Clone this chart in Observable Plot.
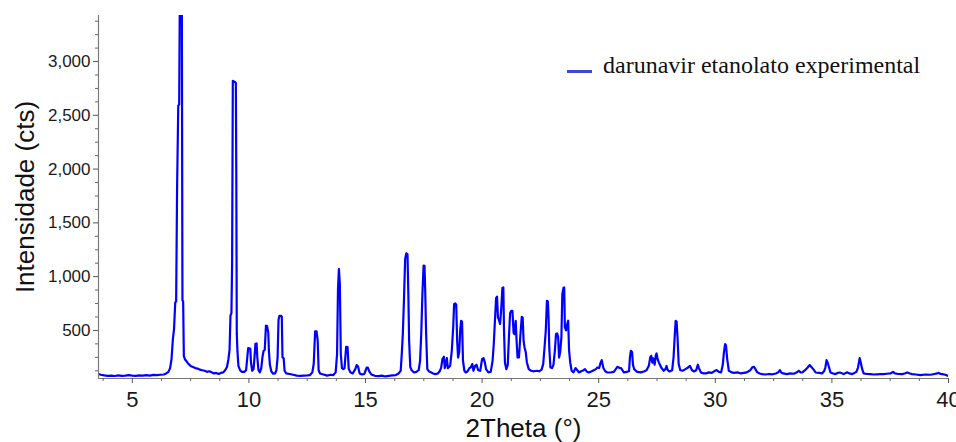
<!DOCTYPE html>
<html><head><meta charset="utf-8">
<script src="https://cdn.jsdelivr.net/npm/d3@7"></script>
<script src="https://cdn.jsdelivr.net/npm/@observablehq/plot@0.6"></script>
<style>
body{margin:0;background:#fff;}
#wrap{position:relative;width:956px;height:442px;overflow:hidden;background:#fff;}
#legend-swatch{position:absolute;left:567px;top:69.5px;width:25px;height:3.5px;background:#3c48d8;}
#legend-text{position:absolute;left:603px;top:53px;font-size:24px;line-height:24px;font-family:"Liberation Serif","Times New Roman",serif;color:#111;white-space:nowrap;}
</style></head>
<body><div id="wrap"></div>
<script>
const seriesName = "darunavir etanolato experimental";
const xLabel = "2Theta (°)";
const yLabel = "Intensidade (cts)";
const xTicks = [5, 10, 15, 20, 25, 30, 35, 40];
const yTicks = [500, 1000, 1500, 2000, 2500, 3000];
const xDomain = [3.55, 40];
const yDomain = [53, 3428];

const twoTheta = [
3.55,3.65,3.8,3.95,4.1,4.25,4.4,4.55,4.7,4.85,5.0,5.15,5.3,5.45,5.6,5.75,5.9,6.05,6.2,6.35,6.45,6.55,6.62,6.68,6.74,6.79,6.84,6.88,6.92,6.97,7.01,7.04,7.08,7.12,7.15,7.18,7.21,7.26,7.32,7.4,7.5,7.6,7.7,7.8,7.9,8.0,8.1,8.2,8.3,8.4,8.5,8.6,8.7,8.8,8.9,8.98,9.06,9.12,9.17,9.21,9.25,9.28,9.31,9.36,9.4,9.44,9.46,9.48,9.51,9.55,9.62,9.7,9.8,9.88,9.93,9.97,10.02,10.06,10.09,10.14,10.2,10.24,10.28,10.33,10.36,10.41,10.47,10.53,10.58,10.63,10.68,10.73,10.78,10.83,10.86,10.9,10.96,11.04,11.12,11.18,11.23,11.27,11.31,11.36,11.41,11.44,11.49,11.53,11.6,11.75,11.9,12.05,12.2,12.35,12.5,12.62,12.72,12.78,12.84,12.9,12.95,12.99,13.05,13.2,13.35,13.5,13.62,13.72,13.78,13.82,13.86,13.9,13.94,13.99,14.05,14.1,14.17,14.23,14.28,14.35,14.45,14.56,14.62,14.68,14.75,14.85,14.95,15.05,15.1,15.16,15.25,15.4,15.55,15.7,15.85,16.0,16.15,16.3,16.42,16.51,16.56,16.6,16.65,16.7,16.75,16.8,16.84,16.87,16.92,16.98,17.08,17.18,17.28,17.34,17.39,17.44,17.49,17.53,17.56,17.6,17.65,17.72,17.8,17.9,18.0,18.1,18.18,18.24,18.3,18.36,18.4,18.45,18.49,18.53,18.58,18.63,18.7,18.76,18.8,18.85,18.89,18.93,18.97,19.02,19.06,19.1,19.14,19.18,19.24,19.3,19.38,19.46,19.51,19.58,19.63,19.7,19.76,19.83,19.92,20.0,20.06,20.12,20.17,20.27,20.37,20.45,20.5,20.55,20.6,20.64,20.68,20.72,20.77,20.82,20.87,20.91,20.94,20.98,21.04,21.1,21.15,21.2,21.25,21.3,21.35,21.39,21.44,21.48,21.52,21.58,21.64,21.7,21.74,21.78,21.82,21.87,21.92,22.0,22.1,22.2,22.35,22.45,22.55,22.62,22.68,22.73,22.78,22.82,22.85,22.88,22.93,23.0,23.06,23.12,23.17,23.22,23.26,23.3,23.35,23.4,23.44,23.49,23.52,23.55,23.6,23.65,23.69,23.73,23.78,23.84,23.92,24.01,24.08,24.15,24.25,24.35,24.41,24.5,24.58,24.7,24.79,24.88,24.94,25.02,25.08,25.13,25.2,25.28,25.37,25.5,25.65,25.8,25.9,25.96,26.08,26.2,26.3,26.34,26.38,26.43,26.47,26.52,26.65,26.8,26.94,27.05,27.15,27.21,27.25,27.3,27.34,27.4,27.45,27.48,27.53,27.58,27.68,27.79,27.86,27.91,27.96,28.04,28.15,28.21,28.26,28.3,28.34,28.38,28.43,28.5,28.6,28.72,28.8,28.91,29.0,29.08,29.18,29.25,29.3,29.38,29.5,29.6,29.72,29.85,29.95,30.06,30.15,30.25,30.32,30.37,30.42,30.46,30.51,30.58,30.7,30.8,30.95,31.1,31.22,31.35,31.5,31.6,31.66,31.72,31.8,31.9,32.01,32.15,32.3,32.45,32.6,32.7,32.77,32.82,32.9,33.08,33.2,33.37,33.5,33.58,33.66,33.73,33.85,33.94,34.05,34.12,34.2,34.3,34.45,34.58,34.66,34.72,34.77,34.82,34.87,34.94,35.05,35.15,35.25,35.34,35.45,35.51,35.6,35.65,35.75,35.87,35.97,36.05,36.12,36.19,36.24,36.3,36.36,36.5,36.65,36.8,36.94,37.1,37.22,37.35,37.51,37.62,37.7,37.85,38.01,38.12,38.23,38.35,38.44,38.6,38.8,39.0,39.23,39.4,39.51,39.58,39.66,39.73,39.87,39.94,40.0
];
const intensity = [
95,88,82,78,80,76,82,78,80,84,80,78,82,80,84,80,86,84,88,90,100,115,150,230,420,515,760,770,1820,2590,2600,3700,4000,3900,780,770,260,230,215,190,170,160,150,145,135,130,125,115,120,110,100,105,95,105,110,130,160,230,320,640,660,1130,2820,2815,2810,2800,1880,470,300,170,130,115,115,130,250,336,330,330,200,125,140,250,375,379,250,130,110,150,250,310,320,544,540,480,300,180,120,97,100,130,250,600,636,636,630,250,240,125,100,95,88,80,78,80,82,85,110,190,491,491,404,130,100,90,80,88,85,110,280,885,1071,932,283,150,140,150,348,345,143,110,100,140,178,165,100,90,95,155,155,120,90,78,75,80,72,78,82,85,100,125,300,466,792,1165,1217,1210,807,404,160,130,109,115,130,218,469,839,1102,1100,870,469,140,120,110,100,94,100,120,150,234,255,150,200,243,150,160,171,311,528,746,751,740,404,248,300,500,590,580,218,125,109,120,150,155,187,125,170,181,130,125,234,243,200,140,109,115,218,373,590,800,814,620,600,560,700,895,900,500,200,140,180,435,660,683,683,480,466,590,400,248,250,450,627,620,400,342,300,202,140,125,120,125,120,135,187,350,497,776,770,621,342,155,150,180,311,466,472,440,248,300,435,839,895,900,528,500,560,590,311,200,125,110,150,130,109,120,130,140,115,109,120,130,140,155,150,200,224,150,120,109,109,115,162,150,150,109,115,120,250,311,300,180,140,115,110,118,130,171,250,264,200,240,181,270,286,230,202,155,125,140,170,130,118,130,250,450,590,580,435,187,130,125,140,150,171,130,118,130,181,150,110,100,100,110,105,120,131,115,110,180,295,373,360,234,125,110,105,110,100,105,110,130,160,162,140,110,100,94,90,95,92,100,110,131,110,100,94,100,97,110,125,110,109,130,150,178,160,140,109,105,100,120,155,224,200,162,109,100,94,105,109,100,94,105,110,100,94,105,115,155,243,200,140,100,95,94,90,92,95,94,97,100,115,100,95,94,100,109,100,94,90,85,90,88,95,100,105,95,94,88,80,75
];

const data = twoTheta.map((x, i) => ({x, y: intensity[i]}));
const xMinor = d3.range(3.75, 40.001, 1.25).filter(v => !xTicks.includes(v));
const yMinor = d3.range(125, 3428, 125).filter(v => !yTicks.includes(v));

const chart = Plot.plot({
  width: 956,
  height: 442,
  marginLeft: 98,
  marginRight: 8,
  marginTop: 15,
  marginBottom: 64,
  x: {domain: xDomain, label: null},
  y: {domain: yDomain, label: null},
  style: {background: "#fff", fontFamily: "'Liberation Sans', Arial, sans-serif", color: "#1a1a1a"},
  marks: [
    Plot.line(data, {x: "x", y: "y", stroke: "#0000ff", strokeWidth: 2.2, clip: true}),
    Plot.ruleY([yDomain[0]], {stroke: "#7a7a7a", strokeWidth: 1.2}),
    Plot.ruleX([xDomain[0]], {stroke: "#7a7a7a", strokeWidth: 1.2}),
    Plot.axisX(xMinor, {tickSize: 3, stroke: "#666", fill: "none", label: null}),
    Plot.axisX(xTicks, {tickSize: 5, tickPadding: 8, fontSize: 22, stroke: "#555", fill: "#1a1a1a", label: null}),
    Plot.axisY(yMinor, {tickSize: 3, stroke: "#666", fill: "none", label: null}),
    Plot.axisY(yTicks, {tickSize: 5, tickPadding: 3, fontSize: 17, stroke: "#555", fill: "#1a1a1a", tickFormat: d3.format(","), label: null}),
    Plot.text([yLabel], {frameAnchor: "left", rotate: -90, dx: -64.4, textAnchor: "middle", lineAnchor: "bottom", fontSize: 26, fill: "#111"}),
    Plot.text([xLabel], {frameAnchor: "bottom", dy: 58, lineAnchor: "bottom", textAnchor: "middle", fontSize: 26, fill: "#111"})
  ]
});
const wrap = document.getElementById("wrap");
wrap.appendChild(chart);
const sw = document.createElement("div");
sw.id = "legend-swatch";
wrap.appendChild(sw);
const lt = document.createElement("div");
lt.id = "legend-text";
lt.textContent = seriesName;
wrap.appendChild(lt);
</script>
</body></html>
